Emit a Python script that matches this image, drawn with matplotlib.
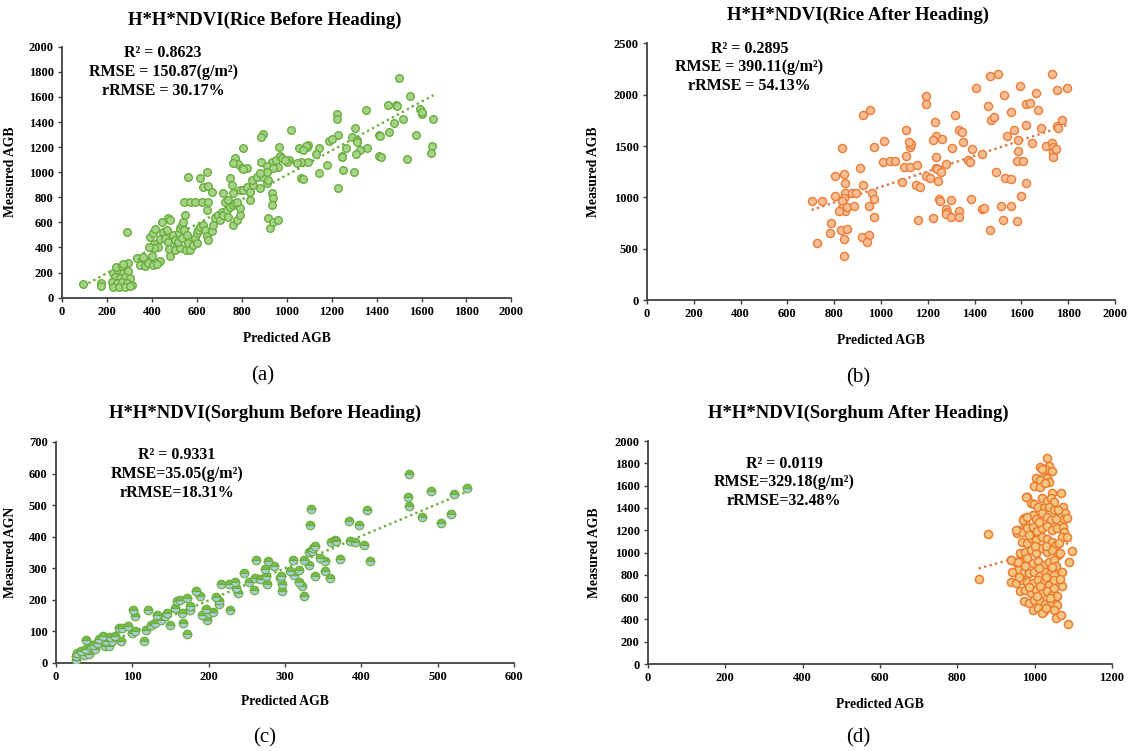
import numpy as np
import matplotlib
matplotlib.use("Agg")
import matplotlib.pyplot as plt

plt.rcParams["font.family"] = ["Liberation Serif", "DejaVu Serif"]

# (a) rice before heading: predicted / measured AGB
rice_before = [
    (95, 109), (174, 115), (172, 96), (291, 521),
    (228, 200), (251, 221), (273, 200), (295, 216), (236, 168), (258, 154), (280, 168),
    (303, 154), (221, 128), (243, 120), (266, 128), (288, 115), (310, 101), (228, 88),
    (255, 83), (280, 88), (303, 93), (240, 242), (266, 253), (295, 274), (273, 269),
    (335, 314), (355, 300), (374, 287), (392, 300), (414, 287), (436, 295), (347, 261),
    (369, 253), (384, 274), (404, 261), (421, 269), (362, 327), (399, 332),
    (392, 481), (404, 518), (415, 548), (411, 428), (429, 407), (410, 399), (389, 401),
    (436, 465), (451, 526), (444, 606), (473, 632), (481, 619), (466, 540), (458, 473),
    (473, 447), (496, 500), (503, 460), (510, 420), (478, 385), (481, 332), (503, 380),
    (525, 393), (518, 447), (522, 513), (525, 553), (533, 579), (540, 606), (547, 659),
    (533, 473), (543, 540), (555, 500), (562, 433), (552, 380), (570, 380), (585, 420),
    (592, 473), (599, 513), (607, 540), (599, 433), (614, 566), (629, 579), (636, 540),
    (644, 492), (651, 460), (666, 534), (674, 579), (681, 632), (696, 659), (703, 619),
    (711, 686), (718, 659), (733, 699), (725, 765), (718, 832), (740, 779), (748, 725),
    (763, 739), (770, 752), (763, 579), (777, 619), (792, 659), (792, 712), (777, 765),
    (792, 858), (807, 858), (822, 885), (837, 779), (837, 845), (852, 898), (844, 938),
    (866, 965), (881, 872), (896, 965), (911, 911), (918, 938), (933, 832), (941, 792),
    (933, 739), (918, 632), (926, 553), (941, 606), (963, 619),
    (544, 765), (570, 765), (592, 765), (622, 765), (651, 765), (644, 699), (562, 965),
    (614, 951), (644, 1004), (629, 885), (651, 890), (666, 845), (770, 1111), (785, 1065),
    (800, 1031), (748, 951), (755, 898), (763, 832), (740, 646), (763, 1071),
    (963, 1044), (936, 1084), (951, 1097), (886, 1084), (911, 1049), (941, 1031),
    (911, 1004), (881, 996), (822, 1036), (804, 1026), (1008, 1097), (1000, 1080),
    (1500, 1753), (1549, 1610), (1449, 1535), (1487, 1535), (1490, 1527), (1352, 1493),
    (1593, 1501), (1601, 1461), (1601, 1482), (1653, 1424), (1519, 1424), (1222, 1461),
    (1225, 1421), (1303, 1350), (1476, 1389), (1455, 1323), (1018, 1336), (1411, 1294),
    (1415, 1288), (1227, 1296), (1289, 1278), (1314, 1257), (1311, 1243), (1190, 1251),
    (1200, 1262), (1144, 1190), (1130, 1142), (1096, 1217), (1089, 1204), (1086, 1209),
    (1056, 1190), (1074, 1177), (1576, 1296), (1645, 1209), (1641, 1150), (1534, 1103),
    (1356, 1195), (1326, 1177), (1309, 1145), (1412, 1129), (1418, 1124), (1264, 1195),
    (1245, 1129), (1248, 1118), (1227, 871), (1252, 1018), (1300, 999), (1181, 1057),
    (1145, 996), (1096, 1084), (1064, 1084), (1044, 1071), (1062, 951), (1074, 943),
    (970, 1129), (981, 1111), (967, 1198), (993, 1097), (893, 1302), (884, 1278),
    (804, 1190),
]

# (b) rice after heading
rice_after = [
    (703, 964), (749, 964), (727, 552), (803, 1211), (843, 1224), (804, 1016), (834, 1477),
    (846, 1136), (844, 1045), (840, 997), (835, 964), (875, 1039), (894, 1039), (832, 893),
    (847, 870), (821, 870), (855, 909), (886, 916), (787, 747), (783, 649), (829, 682),
    (855, 688), (840, 594), (840, 432), (920, 610), (948, 633), (940, 562), (925, 1802),
    (952, 1851), (971, 1487), (925, 1120), (912, 1282), (963, 1039), (968, 984), (948, 916),
    (968, 805), (1012, 1549), (1009, 1341), (1040, 1354), (1059, 1354), (1089, 1153),
    (1100, 1292), (1105, 1403), (1105, 1656), (1125, 1299), (1122, 1494), (1129, 1519),
    (1120, 1536), (1151, 1120), (1166, 1097), (1153, 1315), (1160, 779), (1191, 1211),
    (1210, 1185), (1194, 1990), (1194, 1909), (1230, 1737), (1233, 1597), (1220, 1558),
    (1236, 1396), (1233, 1282), (1240, 1273), (1243, 1159), (1256, 1250), (1260, 1568),
    (1248, 984), (1251, 964), (1220, 795), (1279, 1321), (1279, 886), (1282, 860),
    (1279, 834), (1299, 974), (1299, 805), (1305, 1484), (1314, 1802), (1333, 1656),
    (1344, 1640), (1351, 1536), (1333, 870), (1333, 805), (1371, 1364), (1379, 1341),
    (1387, 1471), (1384, 981), (1407, 2062), (1433, 1419), (1430, 883), (1441, 893),
    (1464, 682), (1456, 1890), (1467, 2182), (1499, 2201), (1471, 1753), (1482, 1779),
    (1492, 1244), (1513, 919), (1522, 779), (1525, 1997), (1528, 1192), (1538, 1597),
    (1556, 1179), (1556, 919), (1556, 1828), (1569, 1656), (1582, 770), (1581, 1354),
    (1584, 1558), (1587, 1451), (1592, 2084), (1605, 1354), (1599, 1013), (1621, 1705),
    (1621, 1906), (1636, 1916), (1621, 1136), (1644, 1526), (1661, 2013), (1670, 1851),
    (1683, 1679), (1703, 1503), (1729, 2201), (1729, 1526), (1737, 1494), (1737, 1445),
    (1737, 1396), (1749, 1471), (1752, 2045), (1752, 1695), (1756, 1672), (1772, 1753),
    (1795, 2062),
]

# (c) sorghum before heading
sorghum_before = [
    (26, 11), (26, 21), (28, 32), (33, 37), (39, 44), (40, 74), (37, 26), (43, 30),
    (46, 53), (49, 58), (51, 44), (54, 63), (57, 76), (61, 84), (64, 53), (65, 69),
    (69, 53), (71, 82), (74, 69), (78, 84), (85, 69), (82, 111), (87, 111), (95, 118),
    (99, 95), (101, 169), (104, 148), (104, 100), (116, 69), (118, 106), (121, 169),
    (125, 121), (130, 127), (133, 153), (137, 137), (143, 148), (145, 158), (149, 121),
    (156, 174), (159, 195), (163, 201), (165, 158), (167, 127), (172, 93), (172, 206),
    (175, 167), (176, 180), (184, 227), (189, 213), (191, 153), (197, 171), (198, 137),
    (201, 158), (206, 162), (210, 209), (213, 195), (214, 188), (216, 251), (228, 169),
    (227, 251), (234, 255), (236, 238), (239, 222), (246, 285), (253, 255), (259, 230),
    (262, 327), (261, 269), (267, 266), (274, 298), (275, 277), (276, 251), (278, 322),
    (286, 308), (294, 269), (295, 277), (296, 251), (296, 227), (307, 290), (310, 327),
    (312, 280), (318, 296), (318, 255), (323, 243), (325, 211), (325, 327), (331, 351),
    (332, 311), (333, 438), (334, 488), (335, 354), (337, 364), (339, 370), (340, 275),
    (346, 333), (352, 322), (353, 290), (359, 269), (361, 382), (366, 391), (367, 385),
    (372, 329), (384, 451), (385, 387), (392, 382), (397, 436), (404, 374), (408, 484),
    (412, 322), (461, 525), (462, 599), (463, 498), (480, 462), (491, 546), (504, 443),
    (517, 473), (522, 535), (539, 554),
]

# (d) sorghum after heading
sorghum_after = [
    (855, 760), (880, 1163), (1032, 1845), (1037, 1776), (1027, 1746), (1014, 1770),
    (1018, 1746), (1046, 1734), (1023, 1681), (1032, 1666), (1004, 1666), (1015, 1651),
    (999, 1597), (1014, 1591), (1037, 1636), (1027, 1621), (1046, 1537), (1068, 1537),
    (981, 1501), (990, 1448), (999, 1436), (1018, 1487), (1032, 1466), (1041, 1487),
    (1051, 1457), (1009, 1412), (1023, 1397), (1037, 1406), (1050, 1382), (1074, 1406),
    (1079, 1352), (1077, 1298), (972, 1307), (975, 1263), (995, 1337), (1004, 1298),
    (1018, 1352), (1031, 1322), (1041, 1292), (1055, 1298), (1083, 1307), (957, 1203),
    (955, 1173), (967, 1188), (981, 1218), (995, 1233), (1006, 1197), (1018, 1218),
    (1032, 1239), (1046, 1203), (1058, 1218), (1074, 1233), (1077, 1188), (1070, 1143),
    (967, 1099), (981, 1084), (990, 1128), (1004, 1114), (1018, 1143), (1032, 1119),
    (1046, 1099), (1055, 1069), (1062, 1084), (1096, 1018), (962, 1000), (976, 1009),
    (990, 1024), (1004, 994), (1018, 1039), (1032, 1009), (1046, 1024), (1060, 979),
    (939, 934), (953, 919), (967, 919), (981, 949), (995, 904), (1009, 925), (1023, 890),
    (1037, 919), (1051, 934), (1055, 875), (1088, 919), (943, 830), (957, 845), (972, 830),
    (986, 815), (999, 830), (1014, 800), (1027, 830), (1041, 815), (1051, 800), (1071, 830),
    (939, 740), (953, 725), (967, 755), (981, 740), (995, 725), (1009, 755), (1023, 740),
    (1037, 710), (1051, 755), (1070, 701), (962, 651), (976, 666), (990, 636), (1004, 660),
    (1018, 636), (1032, 651), (1046, 621), (1058, 606), (972, 561), (986, 546), (999, 576),
    (1014, 561), (1027, 540), (1041, 552), (1058, 531), (1051, 487), (995, 487), (1009, 501),
    (1023, 472), (1018, 457), (1055, 412), (1068, 442), (1086, 361), (940, 933), (942, 828),
    (953, 1202), (971, 1291), (977, 1501), (958, 918), (979, 1322), (1083, 1143),
    (1060, 1380), (1010, 1270), (985, 1160), (1000, 1060), (1030, 1060), (1065, 1000),
    (975, 880), (1010, 860), (1045, 870), (960, 780), (1030, 780), (1065, 760),
    (985, 690), (1015, 700), (1050, 680), (1005, 610), (1040, 590), (1030, 500),
]

# Excel-style linear trendlines (slope, intercept)
trend_a = (0.976, 1.0)
trend_b = (0.758, 344.0)
trend_c = (1.017, -5.0)
trend_d = (0.98, 19.0)

titles = [
    "H*H*NDVI(Rice Before Heading)",
    "H*H*NDVI(Rice After Heading)",
    "H*H*NDVI(Sorghum Before Heading)",
    "H*H*NDVI(Sorghum After Heading)",
]
stats = [
    "R\u00b2 = 0.8623\nRMSE = 150.87(g/m\u00b2)\nrRMSE = 30.17%",
    "R\u00b2 = 0.2895\nRMSE = 390.11(g/m\u00b2)\nrRMSE = 54.13%",
    "R\u00b2 = 0.9331\nRMSE=35.05(g/m\u00b2)\nrRMSE=18.31%",
    "R\u00b2 = 0.0119\nRMSE=329.18(g/m\u00b2)\nrRMSE=32.48%",
]
ylabels = ["Measured AGB", "Measured AGB", "Measured AGN", "Measured AGB"]
panel_tags = ["(a)", "(b)", "(c)", "(d)"]


def style_axes(ax, xmax, xstep, ymax, ystep):
    ax.set_xlim(0, xmax)
    ax.set_ylim(0, ymax)
    ax.set_xticks(np.arange(0, xmax + 1, xstep))
    ax.set_yticks(np.arange(0, ymax + 1, ystep))
    for s in ["top", "right"]:
        ax.spines[s].set_visible(False)
    for s in ["left", "bottom"]:
        ax.spines[s].set_color("#404040")
        ax.spines[s].set_linewidth(1.3)
    ax.tick_params(direction="out", length=3, width=1, colors="#404040",
                   labelsize=9, labelcolor="black", pad=3)
    for lbl in ax.get_xticklabels() + ax.get_yticklabels():
        lbl.set_fontweight("bold")


def trendline(ax, pts, coef, color):
    x = np.array([min(p[0] for p in pts), max(p[0] for p in pts)])
    ax.plot(x, coef[0] * x + coef[1], linestyle=(0, (1, 1.4)), color=color, lw=1.7)


fig = plt.figure(figsize=(11.28, 7.51), dpi=100)

ax_a = fig.add_axes([0.0550, 0.6036, 0.3984, 0.3342])
ax_b = fig.add_axes([0.5736, 0.6005, 0.4149, 0.3418])
ax_c = fig.add_axes([0.0496, 0.1172, 0.4060, 0.2943])
ax_d = fig.add_axes([0.5745, 0.1158, 0.4113, 0.2969])

# (a)
xa, ya = zip(*rice_before)
ax_a.scatter(xa, ya, s=30, facecolor="#A6D388", edgecolor="#6AAE3E", linewidth=1.0, zorder=3)
trendline(ax_a, rice_before, trend_a, "#6AAE3E")
style_axes(ax_a, 2000, 200, 2000, 200)

# (b)
xb, yb = zip(*rice_after)
ax_b.scatter(xb, yb, s=34, facecolor="#F7BE95", edgecolor="#EC7C36", linewidth=1.0, zorder=3)
trendline(ax_b, rice_after, trend_b, "#D9784A")
style_axes(ax_b, 2000, 200, 2500, 500)

# (c)
xc, yc = zip(*sorghum_before)
ax_c.plot(xc, yc, linestyle="none", marker="o", markersize=6.2, fillstyle="top",
          markerfacecolor="#78BC4C", markerfacecoloralt="#A9CBD8",
          markeredgecolor="#6AAE3E", markeredgewidth=0.8, zorder=3)
trendline(ax_c, sorghum_before, trend_c, "#6AAE3E")
style_axes(ax_c, 600, 100, 700, 100)

# (d)
xd, yd = zip(*sorghum_after)
ax_d.scatter(xd, yd, s=34, facecolor="#F2C683", edgecolor="#EC7C2E", linewidth=1.1, zorder=3)
trendline(ax_d, sorghum_after, trend_d, "#D9784A")
style_axes(ax_d, 1200, 200, 2000, 200)

axes = [ax_a, ax_b, ax_c, ax_d]
stat_pos = [(0.225, 1.005), (0.219, 1.01), (0.264, 0.975), (0.293, 0.935)]
ylab_x = [-0.100, -0.101, -0.085, -0.101]
xlab_y = [-0.137, -0.132, -0.145, -0.152]
title_pos = [(0.235, 0.973), (0.761, 0.980), (0.235, 0.450), (0.761, 0.450)]
tag_pos = [(0.233, 0.499), (0.761, 0.497), (0.235, 0.017), (0.761, 0.017)]

for i, ax in enumerate(axes):
    ax.text(stat_pos[i][0], stat_pos[i][1], stats[i], transform=ax.transAxes,
            ha="center", va="top", fontsize=11.5, fontweight="bold",
            linespacing=1.22, multialignment="center")
    ax.set_ylabel(ylabels[i], fontsize=9.8, fontweight="bold")
    ax.yaxis.set_label_coords(ylab_x[i], 0.5)
    ax.set_xlabel("Predicted AGB", fontsize=9.8, fontweight="bold")
    ax.xaxis.set_label_coords(0.5, xlab_y[i])
    fig.text(title_pos[i][0], title_pos[i][1], titles[i], ha="center", va="center",
             fontsize=13.5, fontweight="bold")
    fig.text(tag_pos[i][0], tag_pos[i][1], panel_tags[i], ha="center", va="center",
             fontsize=15)

fig.savefig("out.png", dpi=100)
